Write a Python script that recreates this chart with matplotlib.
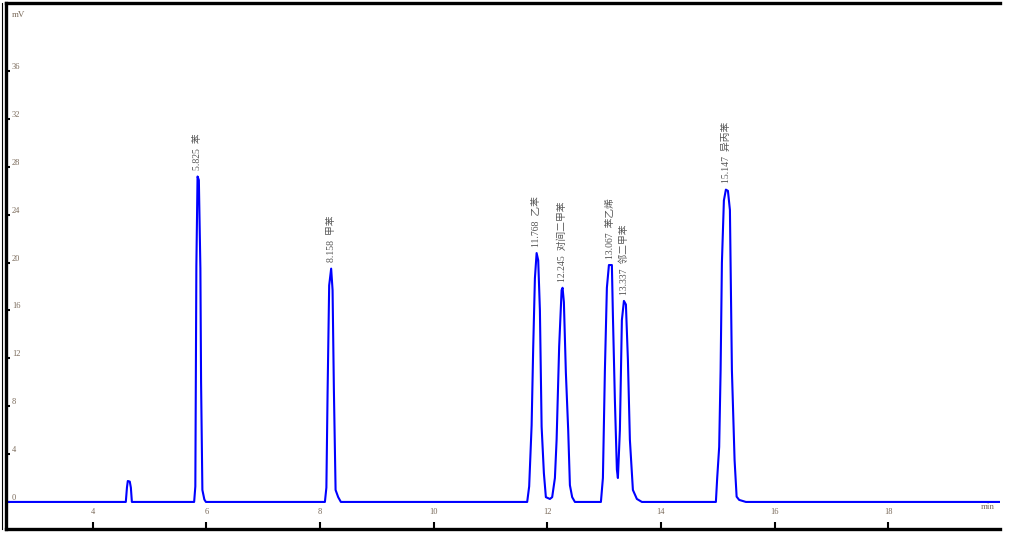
import numpy as np
import matplotlib
matplotlib.use("Agg")
import matplotlib.pyplot as plt
import matplotlib.transforms as mtransforms
from matplotlib.lines import Line2D

plt.rcParams["font.family"] = ["Noto Sans CJK SC", "DejaVu Sans"]

# chromatogram trace (min, mV)
trace_time = [
    2.47, 4.58, 4.60, 4.615, 4.65, 4.669, 4.687,
    5.783, 5.804, 5.822, 5.843, 5.866, 5.893, 5.905, 5.928, 5.963, 5.99,
    8.085, 8.111, 8.132, 8.160, 8.195, 8.220, 8.243, 8.273, 8.319, 8.366,
    11.646, 11.681, 11.724, 11.752, 11.782, 11.812, 11.840, 11.870, 11.900,
    11.940, 11.975, 12.046, 12.086, 12.134, 12.164, 12.209, 12.252, 12.269,
    12.292, 12.327, 12.368, 12.398, 12.438, 12.486,
    12.944, 12.979, 13.014, 13.049, 13.085, 13.137, 13.155, 13.190, 13.225,
    13.243, 13.278, 13.313, 13.349, 13.384, 13.419, 13.454, 13.507, 13.577,
    13.665,
    14.968, 14.991, 15.026, 15.051, 15.074, 15.109, 15.144, 15.180, 15.215,
    15.250, 15.297, 15.333, 15.378, 15.496, 19.97,
]
trace_mv = [
    0.0, 0.0, 1.2, 1.75, 1.7, 1.2, 0.0,
    0.0, 1.3, 19.7, 27.2, 26.9, 19.5, 10.0, 1.0, 0.2, 0.0,
    0.0, 1.2, 9.1, 18.1, 19.5, 17.7, 9.4, 1.0, 0.4, 0.0,
    0.0, 1.3, 6.4, 12.9, 18.7, 20.8, 20.2, 16.0, 6.3,
    2.4, 0.4, 0.25, 0.4, 2.0, 5.2, 13.0, 17.7, 17.9,
    16.7, 10.8, 6.0, 1.4, 0.4, 0.0,
    0.0, 2.0, 11.0, 17.9, 19.8, 19.8, 15.6, 8.5, 2.7,
    2.0, 6.0, 15.2, 16.8, 16.5, 11.9, 5.2, 1.0, 0.25,
    0.0,
    0.0, 2.0, 4.6, 11.0, 20.0, 25.2, 26.1, 26.0, 24.4,
    11.0, 3.5, 0.44, 0.17, 0.0, 0.0,
]

# peak labels
peak_rt = [5.843, 8.195, 11.812, 12.269, 13.11, 13.349, 15.16]
peak_top = [27.2, 19.5, 20.8, 17.9, 19.8, 16.8, 26.1]
peak_labels = ["5.825  苯", "8.158  甲苯", "11.768  乙苯", "12.245  对间二甲苯",
               "13.067  苯乙烯", "13.337  邻二甲苯", "15.147  异丙苯"]

x_ticks = [4, 6, 8, 10, 12, 14, 16, 18]
y_ticks = [0, 4, 8, 12, 16, 20, 24, 28, 32, 36]

fig = plt.figure(figsize=(10.09, 5.34), dpi=100)
ax = fig.add_axes([0.0059, 0.0094, 0.9852, 0.985])

ax.plot(trace_time, trace_mv, color="#0000ff", linewidth=1.5)

ax.set_xlim(2.47, 19.97)
ax.set_ylim(-2.26, 41.7)

for side in ["top", "left", "bottom"]:
    ax.spines[side].set_linewidth(2.4)
ax.spines["right"].set_visible(False)

# thin outer border line at the far left
fig.add_artist(Line2D([0.0015, 0.0015], [0.0094, 0.9944], color="black",
                      linewidth=0.8, transform=fig.transFigure))

ax.set_xticks(x_ticks)
ax.set_yticks(y_ticks)
ax.tick_params(axis="x", direction="in", length=5, width=1.5, labelbottom=False)
ax.tick_params(axis="y", direction="in", length=3, width=1.5, labelleft=False)

lab_color = "#7a6a5a"
ytrans = mtransforms.blended_transform_factory(ax.transAxes, ax.transData)
for v in y_ticks:
    ax.text(0.006, v, str(v), transform=ytrans, fontsize=6, color=lab_color,
            ha="left", va="bottom", family="Liberation Serif")
xtrans = mtransforms.blended_transform_factory(ax.transData, ax.transAxes)
for v in x_ticks:
    ax.text(v, 0.025, str(v), transform=xtrans, fontsize=6, color=lab_color,
            ha="center", va="bottom", family="Liberation Serif")

ax.text(0.006, 0.985, "mV", transform=ax.transAxes, fontsize=6.5,
        color=lab_color, ha="left", va="top", family="Liberation Serif")
ax.text(0.995, 0.035, "min", transform=ax.transAxes, fontsize=6.5,
        color=lab_color, ha="right", va="bottom", family="Liberation Serif")

for rt, top, lab in zip(peak_rt, peak_top, peak_labels):
    ax.annotate(lab, xy=(rt, top), xytext=(0, 4.5), textcoords="offset points",
                rotation=90, fontsize=7, color="#555555",
                ha="center", va="bottom",
                family=["Liberation Serif", "Noto Sans CJK SC"])

fig.savefig("out.png", dpi=100)
